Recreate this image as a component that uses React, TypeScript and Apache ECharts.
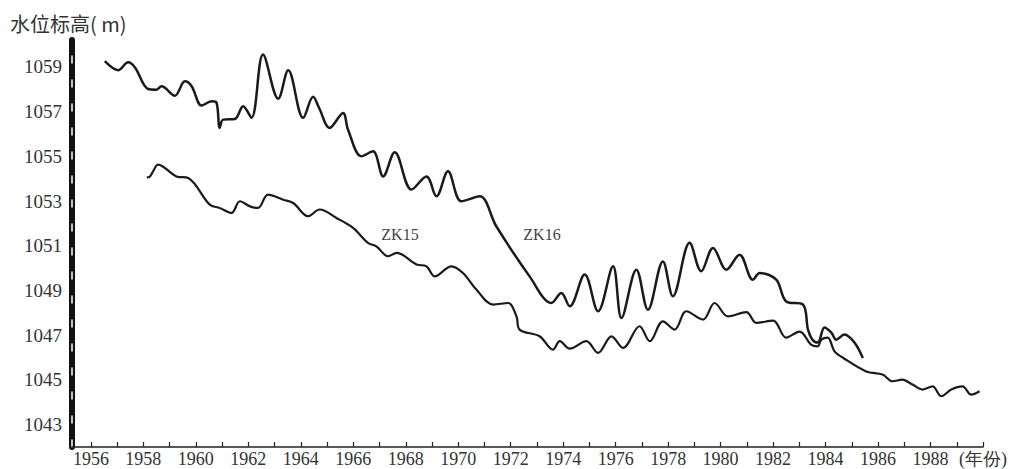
import React, { useEffect, useRef } from "react";
import * as echarts from "echarts";

const xTickYears = [1956, 1957, 1958, 1959, 1960, 1961, 1962, 1963, 1964, 1965, 1966, 1967, 1968, 1969, 1970, 1971, 1972, 1973, 1974, 1975, 1976, 1977, 1978, 1979, 1980, 1981, 1982, 1983, 1984, 1985, 1986, 1987, 1988, 1989, 1990];
const xLabelYears = [1956, 1958, 1960, 1962, 1964, 1966, 1968, 1970, 1972, 1974, 1976, 1978, 1980, 1982, 1984, 1986, 1988, 1990];
const yLabelValues = [1043, 1045, 1047, 1049, 1051, 1053, 1055, 1057, 1059];

const zk16Years = [1956.53, 1957.04, 1957.42, 1957.68, 1958.18, 1958.5, 1958.69, 1959.2, 1959.58, 1959.84, 1960.22, 1960.6, 1960.79, 1960.91, 1961.04, 1961.49, 1961.8, 1962.12, 1962.56, 1963.14, 1963.52, 1964.09, 1964.47, 1964.69, 1965.1, 1965.61, 1965.8, 1966.31, 1966.75, 1967.14, 1967.58, 1968.22, 1968.79, 1969.17, 1969.61, 1970.12, 1970.82, 1971.45, 1972.72, 1973.55, 1973.93, 1974.25, 1974.82, 1975.33, 1975.9, 1976.22, 1976.79, 1977.23, 1977.8, 1978.18, 1978.82, 1979.26, 1979.71, 1980.22, 1980.72, 1981.23, 1981.49, 1982.12, 1982.5, 1983.14, 1983.33, 1983.5, 1983.7, 1983.96, 1984.22, 1984.41, 1984.72, 1985.1, 1985.42];
const zk16Levels = [1059.25, 1058.85, 1059.2, 1058.97, 1058.01, 1057.98, 1058.13, 1057.71, 1058.35, 1058.13, 1057.27, 1057.46, 1057.39, 1056.27, 1056.64, 1056.67, 1057.24, 1056.72, 1059.55, 1057.57, 1058.85, 1056.72, 1057.66, 1057.18, 1056.27, 1056.94, 1056.19, 1055.0, 1055.22, 1054.1, 1055.18, 1053.51, 1054.1, 1053.21, 1054.33, 1052.99, 1053.21, 1051.87, 1049.63, 1048.44, 1048.89, 1048.29, 1049.71, 1048.07, 1050.08, 1047.77, 1049.93, 1048.14, 1050.3, 1048.74, 1051.13, 1049.86, 1050.9, 1049.93, 1050.6, 1049.48, 1049.78, 1049.48, 1048.51, 1048.37, 1047.25, 1046.8, 1046.67, 1047.34, 1047.11, 1046.8, 1047.03, 1046.67, 1045.98];

const zk15Years = [1958.13, 1958.25, 1958.37, 1958.56, 1959.26, 1959.71, 1960.53, 1960.91, 1961.36, 1961.68, 1962.06, 1962.37, 1962.75, 1963.33, 1963.71, 1964.28, 1964.72, 1965.36, 1965.99, 1966.56, 1966.88, 1967.33, 1967.65, 1968.41, 1968.79, 1969.1, 1969.74, 1970.18, 1970.69, 1971.33, 1971.9, 1972.22, 1972.34, 1973.1, 1973.61, 1973.87, 1974.25, 1974.88, 1975.33, 1975.84, 1976.28, 1976.91, 1977.3, 1977.8, 1978.25, 1978.69, 1979.33, 1979.77, 1980.28, 1980.98, 1981.36, 1982.0, 1982.5, 1983.01, 1983.45, 1983.7, 1983.84, 1984.08, 1984.34, 1984.65, 1985.55, 1986.17, 1986.55, 1986.93, 1987.31, 1987.7, 1988.08, 1988.41, 1988.79, 1989.22, 1989.55, 1989.87];
const zk15Levels = [1054.05, 1054.1, 1054.33, 1054.63, 1054.1, 1054.03, 1052.84, 1052.69, 1052.47, 1052.99, 1052.76, 1052.69, 1053.29, 1053.06, 1052.91, 1052.32, 1052.62, 1052.24, 1051.8, 1051.13, 1050.97, 1050.53, 1050.68, 1050.16, 1050.08, 1049.63, 1050.08, 1049.78, 1049.04, 1048.37, 1048.44, 1047.84, 1047.25, 1046.95, 1046.35, 1046.73, 1046.4, 1046.73, 1046.21, 1046.95, 1046.43, 1047.4, 1046.73, 1047.62, 1047.25, 1048.07, 1047.7, 1048.44, 1047.84, 1048.03, 1047.55, 1047.65, 1046.89, 1047.16, 1046.58, 1046.5, 1046.8, 1046.89, 1046.28, 1046.0, 1045.38, 1045.24, 1044.94, 1045.01, 1044.79, 1044.57, 1044.71, 1044.27, 1044.57, 1044.71, 1044.34, 1044.49];

const zip = (xs: number[], ys: number[]) => xs.map((x, i) => [x, ys[i]]);

export default function App() {
  const ref = useRef<HTMLDivElement>(null);
  useEffect(() => {
    document.body.style.margin = "0";
    const chart = echarts.init(ref.current as HTMLDivElement, null, { renderer: "svg" });
    const serif = "Liberation Serif";
    chart.setOption({
      animation: false,
      backgroundColor: "#ffffff",
      grid: { left: 72, right: 29, top: 40, bottom: 22, outerBoundsMode: "none" },
      xAxis: {
        type: "value",
        min: 1955.28,
        max: 1990,
        axisLine: { show: true, lineStyle: { color: "#222", width: 1.5 } },
        axisTick: { show: true, inside: true, length: 5, customValues: xTickYears, lineStyle: { color: "#222", width: 1.2 } },
        axisLabel: {
          customValues: xLabelYears,
          formatter: (v: number) => (v === 1990 ? "(年份)" : String(v)),
          fontFamily: serif,
          fontSize: 18,
          color: "#333",
          margin: 3,
        },
        splitLine: { show: false },
      },
      yAxis: [
        {
          type: "value",
          min: 1042,
          max: 1060.2,
          axisLine: { show: true, lineStyle: { color: "#111", width: 6 } },
          axisTick: { show: false },
          splitLine: { show: false },
          axisLabel: {
            customValues: yLabelValues,
            formatter: (v: number) => String(v),
            fontFamily: serif,
            fontSize: 19,
            color: "#333",
            margin: 10,
          },
        },
        {
          type: "value",
          min: 1042,
          max: 1060.2,
          position: "left",
          offset: 0,
          axisLine: { show: true, lineStyle: { color: "#ffffff", width: 1.5, type: [7, 17] } },
          axisTick: { show: false },
          axisLabel: { show: false },
          splitLine: { show: false },
        },
      ],
      graphic: [
        { type: "text", left: 10, top: 13, style: { text: "水位标高( m)", fontFamily: "Noto Sans CJK SC", fontSize: 20, fill: "#333" } },
        { type: "text", x: 400, y: 234, style: { text: "ZK15", fontFamily: serif, fontSize: 16, fill: "#444", align: "center", verticalAlign: "middle" } },
        { type: "text", x: 542, y: 234, style: { text: "ZK16", fontFamily: serif, fontSize: 16, fill: "#444", align: "center", verticalAlign: "middle" } },
      ],
      series: [
        {
          name: "ZK16",
          type: "line",
          yAxisIndex: 0,
          data: zip(zk16Years, zk16Levels),
          showSymbol: false,
          smooth: 0.35,
          lineStyle: { color: "#1a1a1a", width: 2.5 },
        },
        {
          name: "ZK15",
          type: "line",
          yAxisIndex: 0,
          data: zip(zk15Years, zk15Levels),
          showSymbol: false,
          smooth: 0.35,
          lineStyle: { color: "#1a1a1a", width: 2.2 },
        },
      ],
    });
    return () => chart.dispose();
  }, []);
  return <div ref={ref} style={{ width: 1012, height: 469 }} />;
}
